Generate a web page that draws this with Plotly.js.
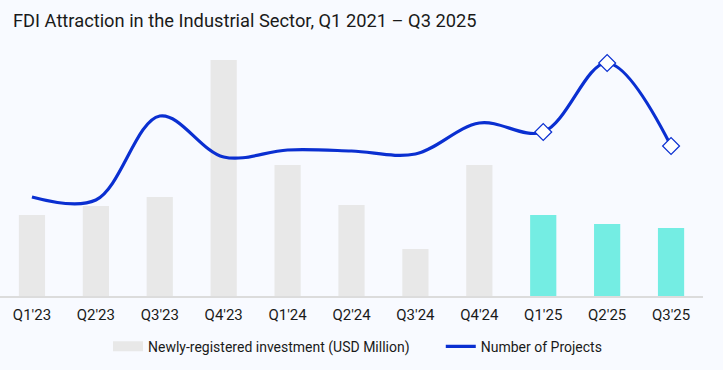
<!DOCTYPE html>
<html><head><meta charset="utf-8">
<script src="https://cdn.plot.ly/plotly-3.0.1.min.js"></script>
<style>html,body{margin:0;padding:0;background:#f8faff;}</style>
</head><body><div id="chart" style="width:723px;height:370px;"></div>
<script>
const quarters = ["Q1'23","Q2'23","Q3'23","Q4'23","Q1'24","Q2'24","Q3'24","Q4'24","Q1'25","Q2'25","Q3'25"];
const investment = [810, 900, 990, 2360, 1310, 910, 470, 1310, 810, 720, 680];
const projects = [198, 192, 360, 278, 292, 290, 284, 346, 328, 466, 300];
const barColors = ["#e8e8e8","#e8e8e8","#e8e8e8","#e8e8e8","#e8e8e8","#e8e8e8","#e8e8e8","#e8e8e8","#74ede3","#74ede3","#74ede3"];
const markedFrom = 8;
const barName = "Newly-registered investment (USD Million)";
const lineName = "Number of Projects";

const lineColor = "#0a2fd1";
const traces = [
  {type:"bar", x:quarters, y:investment, name:barName, showlegend:false,
   marker:{color:barColors}, width:0.41, hoverinfo:"skip"},
  {type:"scatter", mode:"lines", x:[null], y:[null], name:barName, legend:"legend",
   line:{color:"#e8e8e8", width:12}},
  {type:"scatter", mode:"lines", x:quarters, y:projects, yaxis:"y2", name:lineName, legend:"legend2",
   line:{color:lineColor, width:3.2, shape:"spline", smoothing:1}},
  {type:"scatter", mode:"markers", x:quarters.slice(markedFrom), y:projects.slice(markedFrom), yaxis:"y2",
   showlegend:false, marker:{symbol:"diamond", size:13, color:"#ffffff", line:{color:lineColor, width:1.2}}}
];
const legendCommon = {orientation:"h", xanchor:"left", y:-0.141, yanchor:"top",
                      font:{size:14, color:"#1a1a1a"}, bgcolor:"rgba(0,0,0,0)"};
const layout = {
  width:723, height:370,
  paper_bgcolor:"#f8faff", plot_bgcolor:"#f8faff",
  margin:{l:0, r:20, t:50, b:74},
  font:{family:"Roboto, sans-serif", color:"#1a1a1a"},
  title:{text:"FDI Attraction in the Industrial Sector, Q1 2021 – Q3 2025", x:0.018, xanchor:"left", y:0.943, yanchor:"middle",
         font:{size:18.3, color:"#1a1a1a"}},
  xaxis:{type:"category", range:[-0.5,10.5], showline:true, linecolor:"#dcdcdc", linewidth:2, showgrid:false,
         ticks:"", ticklabelstandoff:4, tickfont:{size:15, color:"#1a1a1a"}, fixedrange:true},
  yaxis:{range:[0,2460], visible:false, showgrid:false, zeroline:false},
  yaxis2:{range:[0,492], overlaying:"y", side:"right", visible:false, showgrid:false, zeroline:false},
  showlegend:true,
  legend:Object.assign({x:0.1536}, legendCommon),
  legend2:Object.assign({x:0.627}, legendCommon),
  bargap:0.59
};
Plotly.newPlot("chart", traces, layout, {displayModeBar:false, staticPlot:true});
</script></body></html>
